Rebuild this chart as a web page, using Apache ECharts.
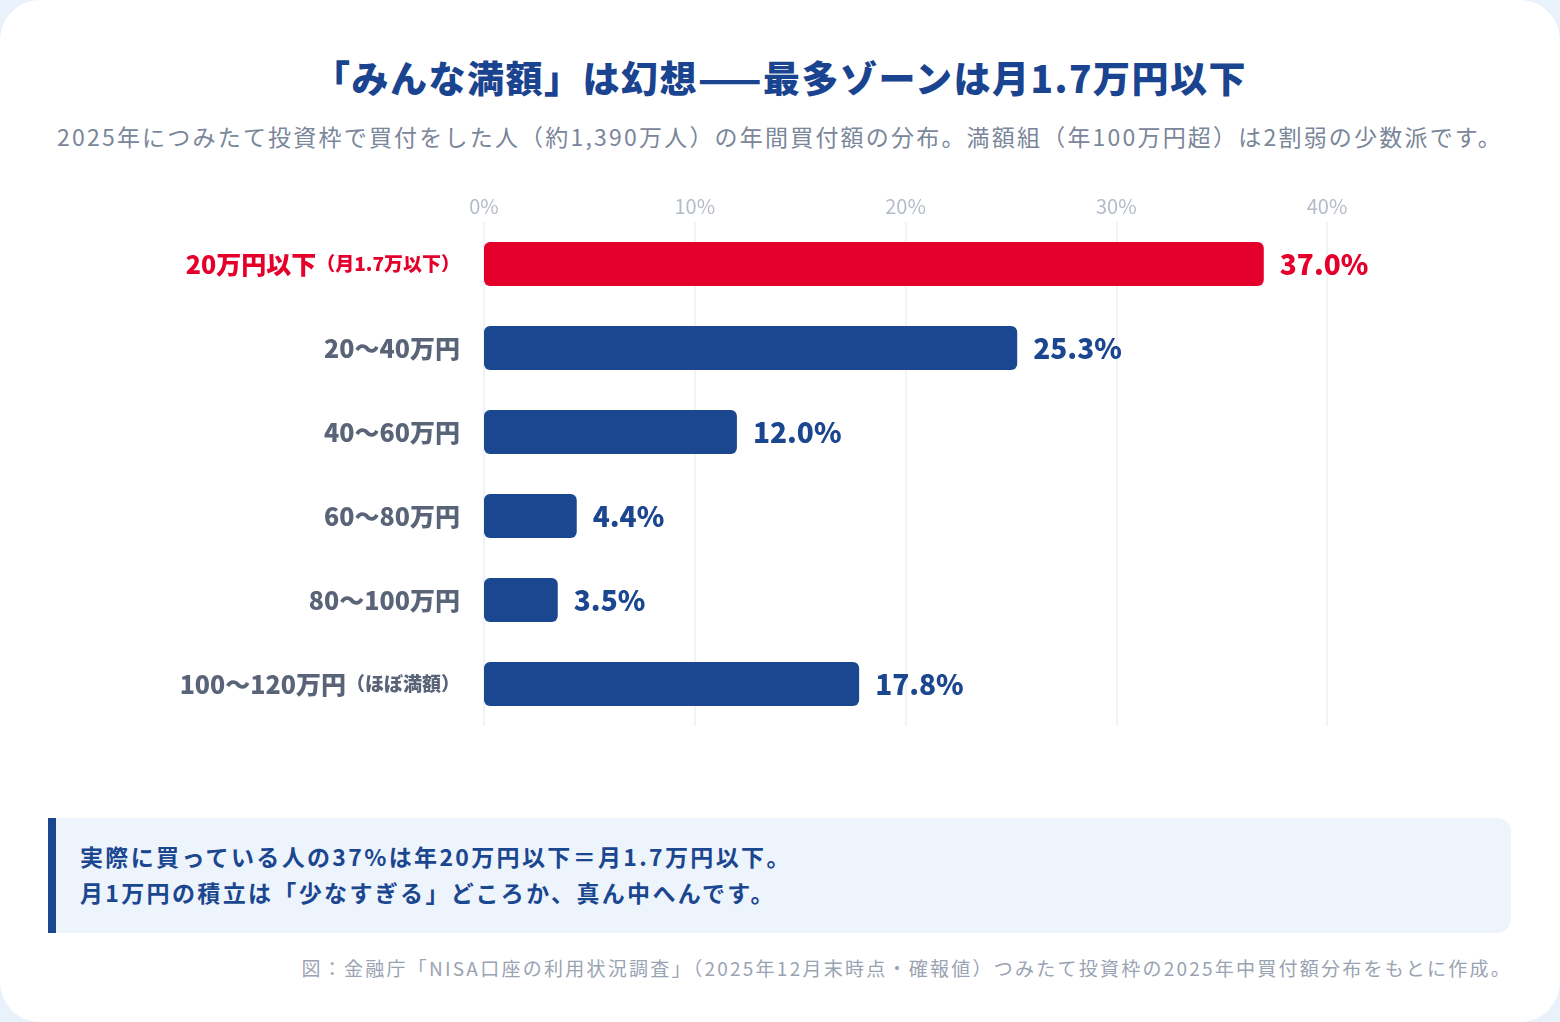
<!DOCTYPE html>
<html>
<head>
<meta charset="utf-8">
<script src="https://cdn.jsdelivr.net/npm/echarts@6/dist/echarts.min.js"></script>
<style>
  html, body { margin: 0; padding: 0; background: #e9f1fb; }
  body { width: 1560px; height: 1022px; position: relative; overflow: hidden;
         font-family: "Noto Sans CJK JP", "Noto Sans", sans-serif; }
  .card { position: absolute; left: 0; top: 0; width: 1560px; height: 1022px;
          background: #fff; border-radius: 40px; }
  .title { position: absolute; top: 50px; left: 0; width: 1560px; text-align: center;
           font-size: 37px; font-weight: 900; color: #1a448f; letter-spacing: 1.5px; line-height: 54px; }
  .sub { position: absolute; top: 118px; left: 0; width: 1560px; text-align: center;
         font-size: 23px; color: #7a869a; letter-spacing: 2.2px; line-height: 36px; }
  .note { position: absolute; left: 48px; top: 818px; width: 1463px; height: 115px;
          background: #edf4fc; border-left: 8px solid #1b4690; border-radius: 0 14px 14px 0;
          box-sizing: border-box; padding: 20px 0 0 24px;
          font-size: 23px; font-weight: 700; color: #1b4690; line-height: 36px; letter-spacing: 2.35px; }
  .src { position: absolute; right: 48px; top: 954px; font-size: 19px; color: #9aa3b2;
         letter-spacing: 2.25px; line-height: 28px; }
  #chart { position: absolute; left: 0; top: 0; width: 1560px; height: 1022px; }
</style>
</head>
<body>
<div class="card"></div>
<div class="title">「みんな満額」は幻想——最多ゾーンは月1.7万円以下</div>
<div class="sub">2025年につみたて投資枠で買付をした人（約1,390万人）の年間買付額の分布。満額組（年100万円超）は2割弱の少数派です。</div>
<div class="note">実際に買っている人の37%は年20万円以下＝月1.7万円以下。<br>月1万円の積立は「少なすぎる」どころか、真ん中へんです。</div>
<div class="src">図：金融庁「NISA口座の利用状況調査」（2025年12月末時点・確報値）つみたて投資枠の2025年中買付額分布をもとに作成。</div>
<div id="chart"></div>
<script>
// 年間買付額の区分（上から順）
const bands = ["20万円以下", "20〜40万円", "40〜60万円", "60〜80万円", "80〜100万円", "100〜120万円"];
const bandNotes = ["（月1.7万以下）", "", "", "", "", "（ほぼ満額）"];
const shares = [37.0, 25.3, 12.0, 4.4, 3.5, 17.8];
const xTicks = [0, 10, 20, 30, 40];

const red = "#e4002b";
const navy = "#1b4690";

const chart = echarts.init(document.getElementById("chart"), null, { renderer: "canvas" });
const font = '"Noto Sans CJK JP", sans-serif';

chart.setOption({
  animation: false,
  grid: { left: 484, right: 233, top: 222, height: 504 },
  xAxis: {
    type: "value",
    position: "top",
    min: xTicks[0],
    max: xTicks[xTicks.length - 1],
    interval: 10,
    axisLine: { show: false },
    axisTick: { show: false },
    splitLine: { lineStyle: { color: "#edf0f4", width: 1.5 } },
    axisLabel: { formatter: "{value}%", color: "#b4bcc9", fontSize: 20, fontFamily: font, margin: 6 }
  },
  yAxis: {
    type: "category",
    inverse: true,
    data: bands,
    axisLine: { show: false },
    axisTick: { show: false },
    axisLabel: {
      margin: 24,
      fontFamily: font,
      formatter: function (v, i) {
        const key = i === 0 ? "r" : "g";
        let s = "{" + key + "|" + v + "}";
        if (bandNotes[i]) s += "{" + key + "s|" + bandNotes[i] + "}";
        return s;
      },
      rich: {
        r: { color: red, fontSize: 25, fontWeight: 900, fontFamily: font },
        rs: { color: red, fontSize: 19, fontWeight: 900, fontFamily: font },
        g: { color: "#5a6478", fontSize: 25, fontWeight: 900, fontFamily: font },
        gs: { color: "#5a6478", fontSize: 19, fontWeight: 900, fontFamily: font }
      }
    }
  },
  series: [{
    type: "bar",
    barWidth: 44,
    data: shares.map((v, i) => ({
      value: v,
      itemStyle: { color: i === 0 ? red : navy },
      label: { color: i === 0 ? red : navy }
    })),
    itemStyle: { borderRadius: 6 },
    label: {
      show: true,
      position: "right",
      distance: 16,
      fontSize: 28,
      fontWeight: 900,
      fontFamily: font,
      formatter: p => p.value.toFixed(1) + "%"
    }
  }]
});
</script>
</body>
</html>
